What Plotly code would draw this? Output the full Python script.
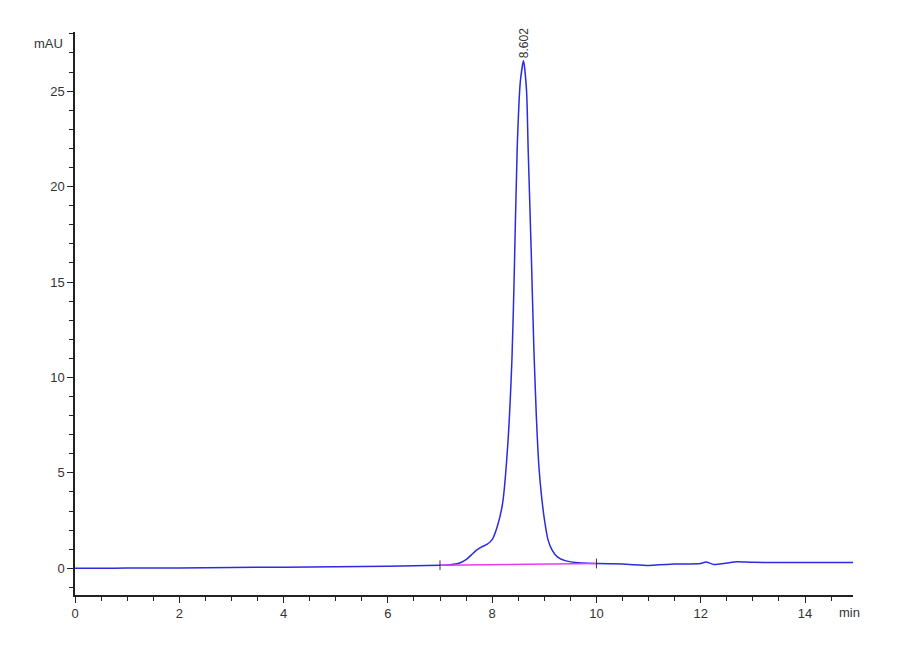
import plotly.graph_objects as go

# chromatogram trace (retention time in min, absorbance in mAU)
time_min = [0.0, 0.5, 1.0, 2.0, 3.0, 4.0, 5.0, 6.0, 6.5, 7.0, 7.2, 7.35, 7.5, 7.6,
            7.7, 7.8, 7.9, 8.0, 8.1, 8.2, 8.3, 8.38, 8.42, 8.48, 8.54, 8.602,
            8.66, 8.69, 8.75, 8.8, 8.85, 8.9, 8.95, 9.0, 9.07, 9.15, 9.25, 9.4,
            9.6, 10.0, 10.5, 11.0, 11.2, 11.5, 12.0, 12.1, 12.25, 12.5, 12.7,
            13.0, 14.0, 15.0]
signal_mau = [0.0, 0.0, 0.01, 0.02, 0.04, 0.06, 0.08, 0.11, 0.13, 0.16, 0.19, 0.25,
              0.45, 0.7, 0.95, 1.12, 1.25, 1.5, 2.2, 3.4, 6.5, 11.0, 15.0, 22.0,
              25.5, 26.6, 25.0, 22.0, 16.5, 11.5, 7.8, 5.2, 3.7, 2.6, 1.5, 0.95,
              0.6, 0.4, 0.3, 0.25, 0.22, 0.15, 0.18, 0.22, 0.25, 0.33, 0.2, 0.28,
              0.34, 0.31, 0.3, 0.31]

# integration baseline
base_time = [7.0, 10.0]
base_mau = [0.16, 0.25]

peak_time = 8.602
peak_mau = 26.6
peak_label = "8.602"

fig = go.Figure()

fig.add_trace(go.Scatter(
    x=time_min, y=signal_mau, mode='lines',
    line=dict(color='#2b2be0', width=1.5, shape='spline', smoothing=0.6),
    showlegend=False, hoverinfo='skip'
))

fig.add_trace(go.Scatter(
    x=base_time, y=base_mau, mode='lines',
    line=dict(color='#e83ce8', width=1.5),
    showlegend=False, hoverinfo='skip'
))

# small start/end markers of the integration
fig.add_trace(go.Scatter(
    x=base_time, y=base_mau, mode='markers',
    marker=dict(symbol='line-ns', size=7, line=dict(color='#333333', width=1)),
    showlegend=False, hoverinfo='skip'
))

fig.add_annotation(
    x=peak_time, y=peak_mau, text=peak_label, textangle=-90,
    showarrow=False, xanchor='center', yanchor='bottom',
    font=dict(size=12, color='#333333')
)

fig.add_annotation(
    xref='paper', yref='paper', x=0, y=1, xshift=-10, yshift=-2,
    text='mAU', showarrow=False, xanchor='right', yanchor='top',
    font=dict(size=13, color='#333333')
)
fig.add_annotation(
    xref='paper', yref='paper', x=1, y=0, xshift=-16, yshift=-8,
    text='min', showarrow=False, xanchor='left', yanchor='top',
    font=dict(size=13, color='#333333')
)

axis_common = dict(
    showgrid=False, zeroline=False, showline=True, linecolor='#222222',
    linewidth=1.5, ticks='outside', ticklen=6, tickcolor='#222222',
    tickfont=dict(size=13, color='#333333'),
    minor=dict(ticks='outside', ticklen=4, tickcolor='#222222', showgrid=False)
)

fig.update_layout(
    width=900, height=660,
    margin=dict(l=67, r=55, t=24, b=73),
    paper_bgcolor='white', plot_bgcolor='white',
    font=dict(family='Liberation Sans, Arial, sans-serif'),
    xaxis=dict(range=[0, 14.92], tickvals=[0, 2, 4, 6, 8, 10, 12, 14],
               minor_dtick=0.5, **axis_common),
    yaxis=dict(range=[-1.4, 28.1], tickvals=[0, 5, 10, 15, 20, 25],
               minor_dtick=1, **axis_common),
)

fig.write_html("out.html")
